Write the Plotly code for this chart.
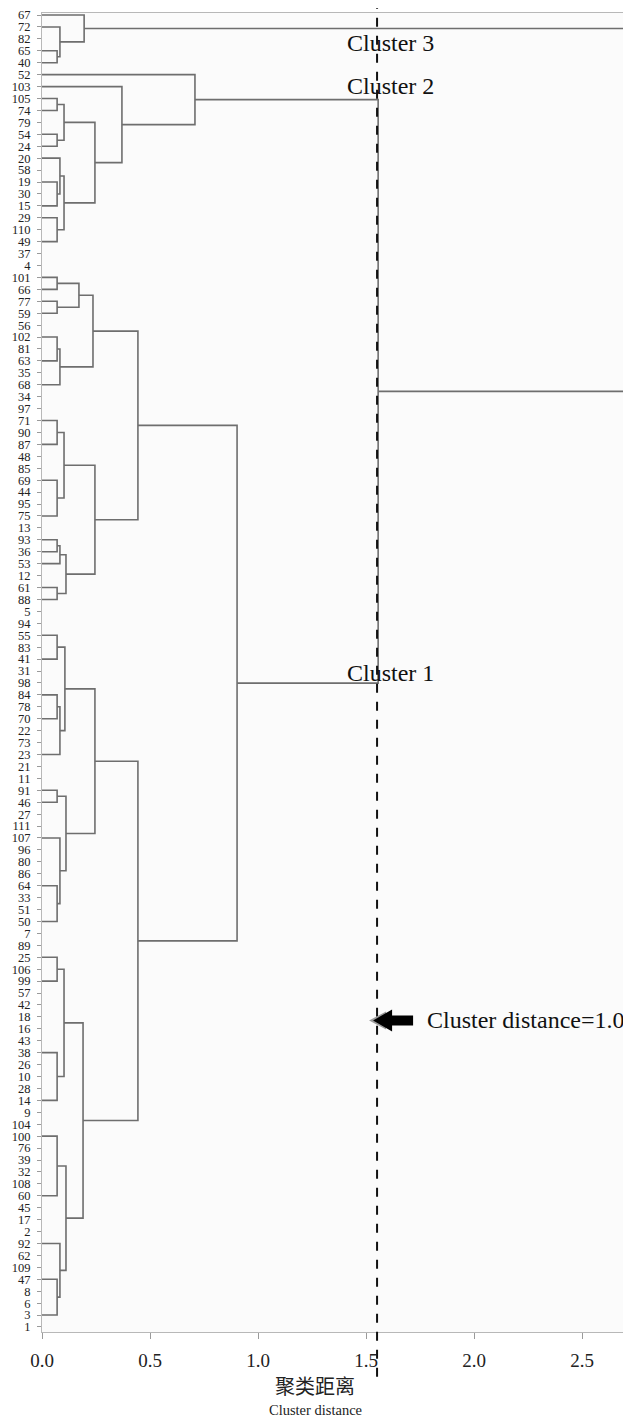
import plotly.graph_objects as go

# Leaf labels, top to bottom (as printed on the vertical axis)
leaf_labels = ["67", "72", "82", "65", "40", "52", "103", "105", "74", "79",
               "54", "24", "20", "58", "19", "30", "15", "29", "110", "49",
               "37", "4", "101", "66", "77", "59", "56", "102", "81", "63",
               "35", "68", "34", "97", "71", "90", "87", "48", "85", "69",
               "44", "95", "75", "13", "93", "36", "53", "12", "61", "88",
               "5", "94", "55", "83", "41", "31", "98", "84", "78", "70",
               "22", "73", "23", "21", "11", "91", "46", "27", "111", "107",
               "96", "80", "86", "64", "33", "51", "50", "7", "89", "25",
               "106", "99", "57", "42", "18", "16", "43", "38", "26", "10",
               "28", "14", "9", "104", "100", "76", "39", "32", "108", "60",
               "45", "17", "2", "92", "62", "109", "47", "8", "6", "3", "1"]

# Merge table: new cluster name, left child, right child, merge distance
merge_name = ["a", "b", "C3",
              "c", "d", "D", "e", "f", "g", "E", "DE", "h", "C2",
              "i", "j", "F1a", "k", "F1b", "F1", "l", "m", "F2a", "n", "o", "p", "F2b", "F2", "F",
              "q", "r", "s", "G1a", "t", "u", "v", "G1b", "G1",
              "w", "x", "G2a", "y", "z", "aa", "G2b", "G2", "G",
              "C1", "C12", "root"]
merge_left = ["65", "72", "67",
              "105", "54", "c", "19", "20", "29", "f", "D", "103", "52",
              "101", "77", "i", "102", "k", "F1a", "71", "69", "l", "93", "n", "61", "o", "F2a", "F1",
              "55", "84", "r", "q", "91", "64", "107", "t", "G1a",
              "25", "38", "w", "100", "47", "92", "y", "G2a", "G1",
              "F", "C2", "C3"]
merge_right = ["40", "a", "b",
               "74", "24", "d", "15", "e", "49", "g", "E", "DE", "h",
               "66", "59", "j", "63", "68", "F1b", "87", "75", "m", "36", "53", "88", "p", "F2b", "F2",
               "41", "70", "23", "s", "46", "50", "u", "v", "G1b",
               "99", "14", "x", "60", "3", "z", "aa", "G2b", "G2",
               "G", "C1", "C12"]
merge_dist = [0.070, 0.083, 0.195,
              0.070, 0.070, 0.102, 0.070, 0.083, 0.070, 0.102, 0.245, 0.370, 0.708,
              0.070, 0.070, 0.171, 0.070, 0.083, 0.236, 0.070, 0.070, 0.102, 0.070, 0.083, 0.070, 0.111, 0.245, 0.444,
              0.070, 0.070, 0.083, 0.106, 0.070, 0.070, 0.083, 0.111, 0.245,
              0.070, 0.070, 0.102, 0.070, 0.070, 0.083, 0.111, 0.190, 0.444,
              0.903, 1.556, 2.695]

cut_distance = 1.551
x_ticks = [0.0, 0.5, 1.0, 1.5, 2.0, 2.5]

# ---- compute node coordinates from the merge table ----
pos = {lab: (0.0, float(i)) for i, lab in enumerate(leaf_labels)}
xs, ys = [], []
for name, l, r, d in zip(merge_name, merge_left, merge_right, merge_dist):
    lx, ly = pos[l]
    rx, ry = pos[r]
    xs += [lx, d, d, rx, None]
    ys += [ly, ly, ry, ry, None]
    pos[name] = (d, (ly + ry) / 2.0)

serif = "Liberation Serif, Times New Roman, serif"

fig = go.Figure()
fig.add_trace(go.Scatter(x=xs, y=ys, mode="lines",
                         line=dict(color="#6e6e6e", width=1.6),
                         hoverinfo="skip", showlegend=False))

n = len(leaf_labels)
fig.update_yaxes(range=[n - 1 + 0.42, -0.17], tickmode="array",
                 tickvals=list(range(n)), ticktext=leaf_labels,
                 ticks="outside", ticklen=4, tickcolor="#9a9a9a",
                 tickfont=dict(family=serif, size=12.5, color="#222"),
                 ticklabelstandoff=4, automargin=False,
                 showline=True, linecolor="#b8b8b8", linewidth=1.2, mirror=True,
                 showgrid=False, zeroline=False)
fig.update_xaxes(range=[0, 2.708], tickmode="array", tickvals=x_ticks,
                 ticktext=[f"{v:.1f}" for v in x_ticks],
                 ticks="outside", ticklen=6, tickcolor="#9a9a9a",
                 tickfont=dict(family=serif, size=19, color="#222"),
                 ticklabelstandoff=5, automargin=False,
                 showline=True, linecolor="#b8b8b8", linewidth=1.2, mirror=True,
                 showgrid=False, zeroline=False)

fig.add_shape(type="line", xref="x", yref="paper", x0=cut_distance, x1=cut_distance,
              y0=-0.034, y1=1.0038, line=dict(color="#111", width=2, dash="dash"))

# block arrow pointing at the cut line (size in pixels, anchored in data space)
fig.add_shape(type="path", xref="x", yref="y", xsizemode="pixel", ysizemode="pixel",
              xanchor=1.528, yanchor=84.3,
              path="M-3,0 L14,9 L14,-9 Z",
              fillcolor="#9a9a9a", line=dict(width=0))
fig.add_shape(type="path", xref="x", yref="y", xsizemode="pixel", ysizemode="pixel",
              xanchor=1.528, yanchor=84.3,
              path="M1,0 L20,11 L20,5 L41,5 L41,-5 L20,-5 L20,-11 Z",
              fillcolor="#000", line=dict(width=0))

txt = dict(family=serif, size=24, color="#111")
fig.add_annotation(x=1.403, y=2.35, text="Cluster 3", showarrow=False, xanchor="left", font=txt)
fig.add_annotation(x=1.403, y=5.95, text="Cluster 2", showarrow=False, xanchor="left", font=txt)
fig.add_annotation(x=1.403, y=55.15, text="Cluster 1", showarrow=False, xanchor="left", font=txt)
fig.add_annotation(x=1.773, y=84.3, text="Cluster distance=1.0", showarrow=False, xanchor="left", font=txt)

fig.add_annotation(xref="paper", yref="paper", x=0.467, y=-0.0402, text="聚类距离",
                   showarrow=False, xanchor="center", yanchor="middle",
                   font=dict(family="Noto Sans CJK SC", size=20, color="#222"))
fig.add_annotation(xref="paper", yref="paper", x=0.467, y=-0.0591, text="Cluster distance",
                   showarrow=False, xanchor="center", yanchor="middle",
                   font=dict(family=serif, size=14.5, color="#222"))

# the page adds an 8 px body margin, so the figure is 8 px smaller than the window
fig.update_layout(width=623, height=1416, margin=dict(l=34, r=4, t=5, b=92),
                  paper_bgcolor="white", plot_bgcolor="#fbfbfb", showlegend=False)
fig.write_html("out.html")
